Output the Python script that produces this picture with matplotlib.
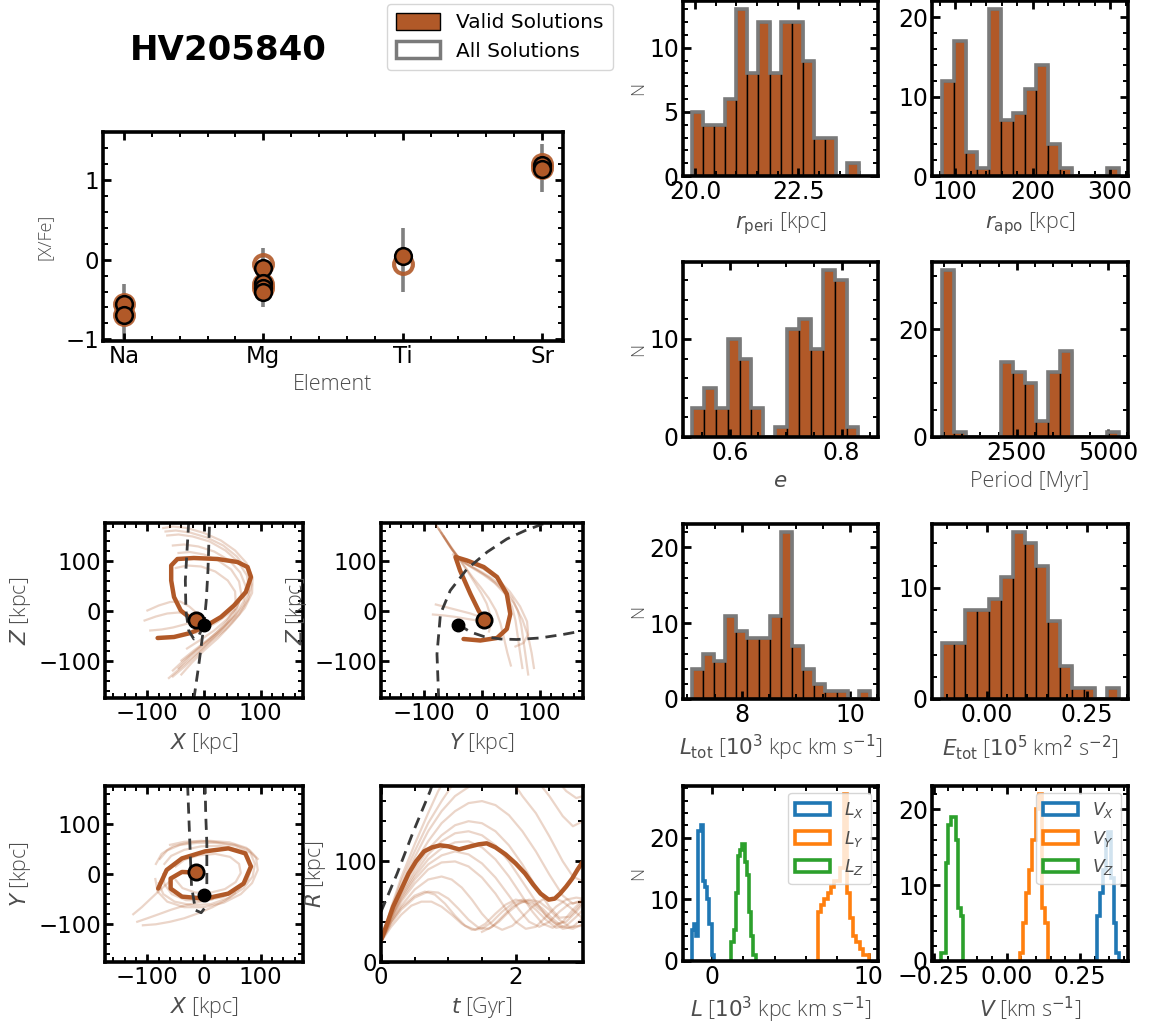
import numpy as np
import matplotlib
matplotlib.use('Agg')
import matplotlib.pyplot as plt
from matplotlib.patches import Patch
from matplotlib.ticker import AutoMinorLocator

W, H = 1152, 1024
BROWN = '#b15928'
GREY_EDGE = '#7a7a7a'
LABEL_COLOR = '#4d4d4d'

# ---------------- data ----------------
star_name = 'HV205840'

elements = ['Na', 'Mg', 'Ti', 'Sr']
ring_elem = ['Na', 'Na', 'Mg', 'Mg', 'Mg', 'Ti', 'Sr', 'Sr']
ring_vals = [-0.56, -0.70, -0.05, -0.31, -0.36, -0.06, 1.20, 1.15]
fill_elem = ['Na', 'Na', 'Mg', 'Mg', 'Mg', 'Mg', 'Ti', 'Sr', 'Sr']
fill_vals = [-0.56, -0.70, -0.10, -0.29, -0.35, -0.40, 0.04, 1.19, 1.14]
err_center = [-0.65, -0.22, 0.00, 1.15]
err_size = [0.35, 0.37, 0.40, 0.30]

rperi_range = (19.92, 23.96)
rperi_counts = [5, 4, 4, 6, 13, 8, 12, 8, 12, 12, 9, 3, 3, 0, 1]
rapo_range = (82.8, 311.6)
rapo_counts = [12, 17, 3, 1, 21, 7, 8, 11, 14, 4, 1, 0, 0, 0, 1]
ecc_range = (0.532, 0.830)
ecc_counts = [3, 5, 3, 10, 8, 3, 0, 1, 11, 12, 9, 17, 16, 1]
period_range = (455, 5292)
period_counts = [31, 1, 0, 0, 0, 14, 12, 10, 3, 12, 16, 0, 0, 0, 1]
ltot_range = (7.078, 10.37)
ltot_counts = [4, 6, 5, 11, 9, 8, 8, 11, 22, 7, 4, 2, 1, 1, 0, 1]
etot_range = (-0.1125, 0.3308)
etot_counts = [5, 5, 8, 8, 9, 11, 15, 14, 12, 7, 3, 1, 1, 0, 1]

lx_range = (-1.28, 0.12)
lx_counts = [5, 6, 4, 21, 22, 13, 12, 10, 6, 1]
ly_range = (6.76, 10.02)
ly_counts = [8, 9, 10, 11, 12, 13, 13, 15, 27, 11, 7, 4, 3, 2, 1, 1]
lz_range = (1.24, 2.78)
lz_counts = [3, 5, 11, 17, 18, 19, 16, 14, 8, 4, 1]

vx_range = (0.310, 0.384)
vx_counts = [6, 9, 12, 16, 17, 11, 5, 1]
vy_range = (0.045, 0.141)
vy_counts = [1, 5, 9, 12, 16, 20, 22, 7, 5]
vz_range = (-0.225, -0.149)
vz_counts = [1, 1, 13, 18, 19, 19, 16, 7, 6]

# current positions (X, Y, Z) of the star and of the LMC
star_pos = (-15, 4, -19)
lmc_pos = (0, -41, -28)

# main orbit projections
xz_main_x = [-13, -27, -41, -53, -58, -58, -47, -18, 24, 59, 77, 83, 74, 53, 30, 0, -24, -53, -82]
xz_main_z = [-19, -13, 0, 27, 60, 90, 103, 105, 103, 97, 87, 67, 37, 10, -13, -33, -45, -53, -55]
yz_main_y = [4, -6, -20, -38, -46, -26, 3, 26, 43, 49, 43, 26, -3, -32]
yz_main_z = [-19, 0, 33, 80, 107, 100, 87, 67, 33, -7, -37, -55, -60, -57]
xy_main_x = [-15, -39, -59, -59, -39, 2, 43, 70, 83, 73, 43, 2, -39, -66, -81]
xy_main_y = [3, 4, -9, -29, -45, -49, -39, -19, 15, 41, 51, 45, 31, 8, -29]
rt_main_t = [0, 0.09, 0.18, 0.30, 0.41, 0.52, 0.64, 0.76, 0.88, 1.00, 1.16, 1.33, 1.45, 1.57,
             1.70, 1.85, 2.00, 2.14, 2.26, 2.37, 2.49, 2.58, 2.66, 2.75, 2.84, 2.92, 3.00]
rt_main_r = [22, 38, 55, 72, 88, 100, 110, 114, 116, 115, 112, 115, 117, 118,
             114, 107, 98, 88, 77, 68, 62, 63, 68, 75, 83, 92, 100]

# LMC orbit (dashed)
xz_lmc = [[(-18, -178), (-9, -107), (0, -28), (4, 20), (7, 80), (9, 150), (10, 178)],
          [(-27, 178), (-30, 120), (-33, 60), (-32, 0), (-27, -40), (-18, -57), (-9, -50), (-3, -35)]]
yz_lmc = [[(-75, -178), (-78, -87), (-72, -7), (-55, 40), (-26, 83), (9, 117), (43, 143), (75, 160), (110, 175), (130, 182)],
          [(-41, -28), (-20, -43), (3, -52), (32, -57), (60, -58), (100, -55), (140, -48), (178, -40)]]
xy_lmc = [[(-29, 178), (-27, 120), (-25, 61), (-22, -25), (-15, -72), (-5, -77), (3, -65), (5, -25),
           (5, 61), (3, 120), (2, 178)]]
rt_lmc = [[(0, 50), (0.24, 88), (0.47, 128), (0.73, 170), (0.78, 180)]]

# ensemble of orbit solutions (thin lines)
xz_thin = [
    [(-72, 165), (-55, 168), (-30, 165), (0, 155), (30, 140), (55, 120), (75, 95), (86, 65), (85, 35), (72, 5), (50, -25), (25, -55), (0, -80), (-22, -105), (-40, -128)],
    [(-65, 150), (-45, 152), (-20, 148), (10, 138), (38, 120), (60, 98), (76, 70), (80, 40), (70, 10), (50, -18), (25, -45), (0, -68), (-25, -92), (-45, -115)],
    [(-55, 130), (-35, 132), (-10, 128), (18, 118), (45, 100), (64, 76), (74, 48), (70, 18), (55, -10), (32, -35), (8, -58), (-18, -80), (-40, -100)],
    [(-45, 115), (-25, 117), (0, 112), (25, 100), (48, 82), (62, 58), (66, 32), (58, 6), (40, -18), (18, -40), (-8, -60), (-30, -76)],
    [(-50, 85), (-30, 90), (-5, 88), (20, 78), (42, 60), (55, 38), (56, 15), (45, -5), (25, -22), (5, -35), (-15, -45)],
    [(-68, 158), (-50, 160), (-25, 156), (5, 146), (34, 130), (58, 108), (76, 82), (84, 52), (78, 22), (62, -8), (38, -38), (12, -62), (-12, -88), (-34, -112), (-55, -132)],
    [(-105, -20), (-85, -12), (-65, -6), (-45, -4), (-28, -8), (-15, -15)],
    [(-100, 0), (-80, 10), (-60, 17), (-42, 18), (-26, 8), (-14, -4)],
    [(-95, -40), (-75, -38), (-55, -34), (-35, -28), (-18, -22)],
    [(-62, -135), (-45, -118), (-25, -98), (-5, -78), (15, -57), (35, -35), (52, -10), (62, 15)],
    [(-55, -120), (-38, -102), (-18, -83), (2, -64), (22, -44), (40, -22), (54, 2)],
]
yz_thin = [
    [(-82, 175), (-72, 158), (-62, 140), (-52, 122), (-40, 105), (-25, 92), (-5, 80), (15, 66), (35, 48), (52, 25), (62, 0), (68, -30), (72, -62), (76, -95), (80, -128)],
    [(-78, 168), (-68, 150), (-58, 132), (-47, 114), (-34, 98), (-18, 86), (2, 72), (22, 55), (40, 33), (52, 8), (58, -20), (62, -52), (66, -85), (70, -115)],
    [(-74, 162), (-64, 144), (-54, 126), (-42, 108), (-28, 94), (-10, 82), (12, 66), (34, 44), (55, 15), (70, -18), (80, -52), (86, -85), (90, -115)],
    [(-70, 155), (-60, 137), (-50, 119), (-38, 100), (-26, 80), (-14, 58), (-2, 36), (8, 14), (14, -8), (15, -28), (12, -42)],
    [(-50, 112), (-36, 104), (-18, 95), (4, 82), (26, 64), (48, 38), (66, 8), (78, -22), (80, -48), (72, -65), (58, -72)],
    [(-66, 148), (-54, 128), (-42, 108), (-30, 88), (-16, 66), (-2, 46), (12, 24), (24, 0), (32, -26), (38, -55), (44, -85), (50, -110)],
    [(-85, -8), (-65, -10), (-45, -13), (-25, -17), (-8, -20)],
    [(-80, 12), (-60, 6), (-40, 0), (-20, -6), (-5, -12)],
]
xy_thin = [
    [(-85, 20), (-75, 40), (-55, 55), (-25, 63), (10, 66), (45, 63), (75, 52), (92, 32), (95, 8), (85, -18), (65, -40), (35, -57), (0, -66), (-35, -66), (-65, -55), (-82, -35), (-86, -10)],
    [(-70, 20), (-58, 36), (-35, 48), (-5, 55), (28, 56), (58, 49), (78, 34), (84, 12), (77, -12), (60, -32), (33, -46), (0, -53), (-32, -52), (-57, -40), (-70, -20), (-72, 0)],
    [(-50, 15), (-35, 28), (-10, 37), (20, 40), (46, 34), (62, 20), (65, 2), (56, -16), (37, -30), (12, -37), (-15, -37), (-38, -28), (-50, -12)],
    [(-125, -80), (-110, -66), (-95, -50), (-78, -32), (-60, -14), (-42, 2)],
    [(-118, -95), (-100, -88), (-80, -80), (-58, -71), (-35, -63), (-10, -56), (15, -50)],
    [(-108, -102), (-85, -100), (-60, -95), (-35, -88), (-10, -78), (15, -66), (38, -52), (55, -38)],
    [(-60, 58), (-35, 64), (-5, 66), (25, 63), (55, 58), (80, 48), (95, 30)],
    [(-78, 30), (-65, 47), (-42, 58), (-12, 62), (22, 62), (55, 56), (82, 42), (90, 20), (86, -5), (70, -28), (45, -47), (12, -60), (-22, -62), (-52, -55), (-72, -40), (-80, -18)],
]
rt_thin = [
    [(0, 20), (0.15, 35), (0.3, 47), (0.45, 56), (0.6, 60), (0.75, 60), (0.9, 55), (1.05, 47), (1.2, 38), (1.35, 32), (1.5, 33), (1.65, 40), (1.8, 50), (1.95, 58), (2.1, 62), (2.25, 60), (2.4, 53), (2.55, 43), (2.7, 35), (2.85, 33), (3.0, 38)],
    [(0, 20), (0.15, 38), (0.3, 52), (0.5, 64), (0.7, 70), (0.85, 69), (1.0, 63), (1.15, 53), (1.3, 42), (1.45, 34), (1.6, 33), (1.75, 40), (1.9, 50), (2.05, 58), (2.2, 62), (2.35, 60), (2.5, 52), (2.65, 42), (2.8, 35), (3.0, 36)],
    [(0, 20), (0.15, 40), (0.3, 56), (0.5, 72), (0.7, 82), (0.9, 85), (1.05, 82), (1.2, 74), (1.35, 62), (1.5, 48), (1.65, 37), (1.8, 32), (1.95, 36), (2.1, 45), (2.25, 55), (2.4, 62), (2.55, 64), (2.7, 60), (2.85, 52), (3.0, 43)],
    [(0, 20), (0.15, 42), (0.3, 60), (0.5, 78), (0.7, 92), (0.9, 99), (1.1, 100), (1.3, 95), (1.5, 84), (1.7, 68), (1.85, 53), (2.0, 40), (2.15, 33), (2.3, 35), (2.45, 45), (2.6, 55), (2.75, 62), (2.9, 64), (3.0, 63)],
    [(0, 20), (0.15, 43), (0.3, 62), (0.5, 82), (0.7, 97), (0.9, 106), (1.1, 110), (1.3, 107), (1.5, 98), (1.7, 84), (1.9, 66), (2.05, 52), (2.2, 40), (2.35, 35), (2.5, 40), (2.65, 50), (2.8, 58), (3.0, 60)],
    [(0, 20), (0.15, 44), (0.3, 64), (0.5, 85), (0.7, 102), (0.9, 113), (1.1, 119), (1.3, 120), (1.5, 114), (1.7, 102), (1.9, 85), (2.1, 65), (2.25, 50), (2.4, 38), (2.55, 34), (2.7, 40), (2.85, 52), (3.0, 62)],
    [(0, 20), (0.15, 45), (0.3, 66), (0.5, 88), (0.7, 107), (0.9, 120), (1.1, 128), (1.3, 130), (1.5, 126), (1.7, 116), (1.9, 100), (2.1, 80), (2.3, 60), (2.45, 46), (2.6, 38), (2.75, 40), (2.9, 50), (3.0, 58)],
    [(0, 20), (0.15, 46), (0.3, 68), (0.5, 92), (0.7, 112), (0.9, 126), (1.1, 136), (1.3, 140), (1.5, 138), (1.7, 130), (1.9, 116), (2.1, 97), (2.3, 75), (2.5, 55), (2.65, 44), (2.8, 45), (3.0, 60)],
    [(0, 20), (0.15, 48), (0.3, 72), (0.5, 98), (0.7, 120), (0.9, 138), (1.1, 150), (1.3, 158), (1.5, 160), (1.7, 156), (1.9, 146), (2.1, 130), (2.3, 110), (2.5, 87), (2.7, 66), (2.85, 58), (3.0, 62)],
    [(0, 20), (0.15, 50), (0.3, 75), (0.5, 104), (0.7, 130), (0.9, 150), (1.1, 165), (1.3, 174), (1.45, 180)],
    [(1.95, 180), (2.1, 165), (2.3, 148), (2.5, 125), (2.7, 100), (2.85, 85), (3.0, 80)],
    [(0, 20), (0.15, 52), (0.3, 80), (0.5, 110), (0.7, 138), (0.9, 160), (1.05, 175), (1.15, 182)],
    [(2.3, 182), (2.5, 165), (2.7, 145), (2.85, 135), (3.0, 140)],
    [(0, 20), (0.15, 54), (0.3, 84), (0.5, 117), (0.7, 148), (0.85, 170), (0.95, 182)],
    [(2.6, 182), (2.75, 170), (2.9, 163), (3.0, 165)],
    [(0, 20), (0.15, 40), (0.3, 54), (0.5, 66), (0.65, 70), (0.8, 67), (0.95, 58), (1.1, 46), (1.25, 36), (1.4, 32), (1.55, 38), (1.7, 48), (1.85, 57), (2.0, 62), (2.15, 60), (2.3, 52), (2.45, 42), (2.6, 34), (2.75, 36), (2.9, 45), (3.0, 52)],
    [(1.5, 30), (1.65, 35), (1.8, 45), (1.95, 55), (2.1, 60), (2.25, 58), (2.4, 50), (2.55, 40), (2.7, 33), (2.85, 35), (3.0, 44)],
]

# ---------------- figure ----------------
plt.rcParams['mathtext.fontset'] = 'dejavusans'
fig = plt.figure(figsize=(W / 100, H / 100), dpi=100)


def add_ax(l, t, r, b):
    return fig.add_axes([l / W, 1 - b / H, (r - l) / W, (b - t) / H])


def style(ax, labelsize=16.5):
    for s in ax.spines.values():
        s.set_linewidth(2.6)
    ax.xaxis.set_minor_locator(AutoMinorLocator())
    ax.yaxis.set_minor_locator(AutoMinorLocator())
    ax.tick_params(which='both', direction='in', top=True, right=True,
                   labelsize=labelsize, pad=3)
    ax.tick_params(which='major', length=6, width=2)
    ax.tick_params(which='minor', length=3.5, width=1.4)


lab = dict(family=['Open Sans', 'DejaVu Sans'], weight='light', color=LABEL_COLOR)
LABSIZE = 15.5


def hist_panel(ax, rng, counts):
    edges = np.linspace(rng[0], rng[1], len(counts) + 1)
    ax.hist(edges[:-1], bins=edges, weights=counts, color=BROWN,
            edgecolor='black', linewidth=1.0)
    ax.hist(edges[:-1], bins=edges, weights=counts, histtype='step',
            color=GREY_EDGE, linewidth=2.6)


def step_panel(ax, rng, counts, color, label):
    edges = np.linspace(rng[0], rng[1], len(counts) + 1)
    ax.hist(edges[:-1], bins=edges, weights=counts, histtype='step',
            color=color, linewidth=2.6, label=label)


# title and legend
fig.text(228 / W, 1 - 50 / H, star_name, fontsize=24.5, weight='bold',
         ha='center', va='center')
handles = [Patch(facecolor=BROWN, edgecolor='black', linewidth=1.0),
           Patch(facecolor='white', edgecolor=GREY_EDGE, linewidth=2.5)]
fig.legend(handles, ['Valid Solutions', 'All Solutions'], loc='upper left',
           bbox_to_anchor=(387 / W, 1 - 4 / H), fontsize=14.5, borderaxespad=0,
           handlelength=2.2, handleheight=0.9, labelspacing=0.45,
           borderpad=0.45)

# abundance panel
ax = add_ax(103, 132, 563, 341)
style(ax)
idx = {e: i for i, e in enumerate(elements)}
ax.errorbar(range(len(elements)), err_center, yerr=err_size, fmt='none',
            ecolor='grey', elinewidth=2.6, capsize=0, zorder=1)
ax.plot([idx[e] for e in ring_elem], ring_vals, 'o', ms=13.5, mfc='none',
        mec=BROWN, mew=3, alpha=0.9, zorder=2)
ax.plot([idx[e] for e in fill_elem], fill_vals, 'o', ms=12, mfc=BROWN,
        mec='black', mew=1.8, zorder=3)
ax.set_xticks(range(len(elements)))
ax.set_xticklabels(elements)
ax.set_xlim(-0.15, 3.15)
ax.set_ylim(-1.02, 1.6)
ax.set_yticks([-1, 0, 1])
ax.set_xlabel('Element', fontsize=LABSIZE, **lab)
ax.set_ylabel('[X/Fe]', fontsize=13, labelpad=8, **lab)

# histogram panels
colA = (683, 878)
colB = (932, 1128)
rows = [(1, 176), (262, 437), (524, 699), (786, 961)]

specs = [
    (colA, rows[0], rperi_range, rperi_counts, (19.71, 24.43), [20.0, 22.5], [0, 5, 10], r'$r_{\rm peri}$ [kpc]', True),
    (colB, rows[0], rapo_range, rapo_counts, (70, 323), [100, 200, 300], [0, 10, 20], r'$r_{\rm apo}$ [kpc]', False),
    (colA, rows[1], ecc_range, ecc_counts, (0.516, 0.865), [0.6, 0.8], [0, 10], r'$e$', True),
    (colB, rows[1], period_range, period_counts, (182, 5537), [2500, 5000], [0, 20], 'Period [Myr]', False),
    (colA, rows[2], ltot_range, ltot_counts, (6.917, 10.517), [8, 10], [0, 10, 20], r'$L_{\rm tot}$ [$10^3$ kpc km s$^{-1}$]', True),
    (colB, rows[2], etot_range, etot_counts, (-0.137, 0.353), [0.0, 0.25], [0, 10], r'$E_{\rm tot}$ [$10^5$ km$^2$ s$^{-2}$]', False),
]
for col, row, rng, counts, xlim, xt, yt, xl, ylab in specs:
    ax = add_ax(col[0], row[0], col[1], row[1])
    hist_panel(ax, rng, counts)
    ax.set_xlim(*xlim)
    ax.set_xticks(xt)
    ax.set_yticks(yt)
    style(ax, 17)
    ax.set_xlabel(xl, fontsize=LABSIZE, **lab)
    if ylab:
        ax.set_ylabel('N', fontsize=13, labelpad=1, **lab)

# L components
ax = add_ax(colA[0], rows[3][0], colA[1], rows[3][1])
step_panel(ax, lx_range, lx_counts, 'tab:blue', r'$L_X$')
step_panel(ax, ly_range, ly_counts, 'tab:orange', r'$L_Y$')
step_panel(ax, lz_range, lz_counts, 'tab:green', r'$L_Z$')
ax.set_xticks([0, 10])
ax.set_yticks([0, 10, 20])
style(ax, 17)
ax.legend(loc='upper right', fontsize=12.5, handlelength=2.0, handleheight=0.7,
          labelcolor=LABEL_COLOR, borderaxespad=0.4)
ax.set_xlabel(r'$L$ [$10^3$ kpc km s$^{-1}$]', fontsize=LABSIZE, **lab)
ax.set_ylabel('N', fontsize=13, labelpad=1, **lab)

# V components
ax = add_ax(colB[0], rows[3][0], colB[1], rows[3][1])
step_panel(ax, vx_range, vx_counts, 'tab:blue', r'$V_X$')
step_panel(ax, vy_range, vy_counts, 'tab:orange', r'$V_Y$')
step_panel(ax, vz_range, vz_counts, 'tab:green', r'$V_Z$')
ax.set_xticks([-0.25, 0.0, 0.25])
ax.set_yticks([0, 10, 20])
style(ax, 17)
ax.legend(loc='upper right', fontsize=12.5, handlelength=2.0, handleheight=0.7,
          labelcolor=LABEL_COLOR, borderaxespad=0.4)
ax.set_xlabel(r'$V$ [km s$^{-1}$]', fontsize=LABSIZE, **lab)


# orbit panels
def orbit_panel(l, t, r, b, thin, mx, my, lmc, spos, lpos, xl, yl, xlim=(-175, 175), ylim=(-175, 175),
                xt=(-100, 0, 100), yt=(-100, 0, 100)):
    ax = add_ax(l, t, r, b)
    for seg in thin:
        xs, ys = zip(*seg)
        ax.plot(xs, ys, color=BROWN, alpha=0.25, lw=1.6, solid_joinstyle='round')
    ax.plot(mx, my, color=BROWN, lw=3.2, solid_joinstyle='round', solid_capstyle='round')
    for seg in lmc:
        xs, ys = zip(*seg)
        ax.plot(xs, ys, color='#3a3a3a', lw=2.0, ls=(0, (4, 2.5)))
    if spos is not None:
        ax.plot([spos[0]], [spos[1]], 'o', ms=11, mfc=BROWN, mec='black', mew=2, zorder=5)
    if lpos is not None:
        ax.plot([lpos[0]], [lpos[1]], 'o', ms=9, color='black', zorder=5)
    ax.set_xlim(*xlim)
    ax.set_ylim(*ylim)
    ax.set_xticks(list(xt))
    ax.set_yticks(list(yt))
    style(ax)
    ax.set_xlabel(xl, fontsize=LABSIZE, **lab)
    ax.set_ylabel(yl, fontsize=LABSIZE, **lab)
    return ax


orbit_panel(105, 523, 303, 698, xz_thin, xz_main_x, xz_main_z, xz_lmc,
            (star_pos[0], star_pos[2]), (lmc_pos[0], lmc_pos[2]),
            r'$X$ [kpc]', r'$Z$ [kpc]')
orbit_panel(381, 523, 583, 698, yz_thin, yz_main_y, yz_main_z, yz_lmc,
            (star_pos[1], star_pos[2]), (lmc_pos[1], lmc_pos[2]),
            r'$Y$ [kpc]', r'$Z$ [kpc]')
orbit_panel(105, 786, 303, 962, xy_thin, xy_main_x, xy_main_y, xy_lmc,
            (star_pos[0], star_pos[1]), (lmc_pos[0], lmc_pos[1]),
            r'$X$ [kpc]', r'$Y$ [kpc]')
orbit_panel(381, 786, 583, 962, rt_thin, rt_main_t, rt_main_r, rt_lmc,
            None, None, r'$t$ [Gyr]', r'$R$ [kpc]', xlim=(0, 3.0), ylim=(0, 175),
            xt=(0, 2), yt=(0, 100))

fig.savefig('out.png', dpi=100)
